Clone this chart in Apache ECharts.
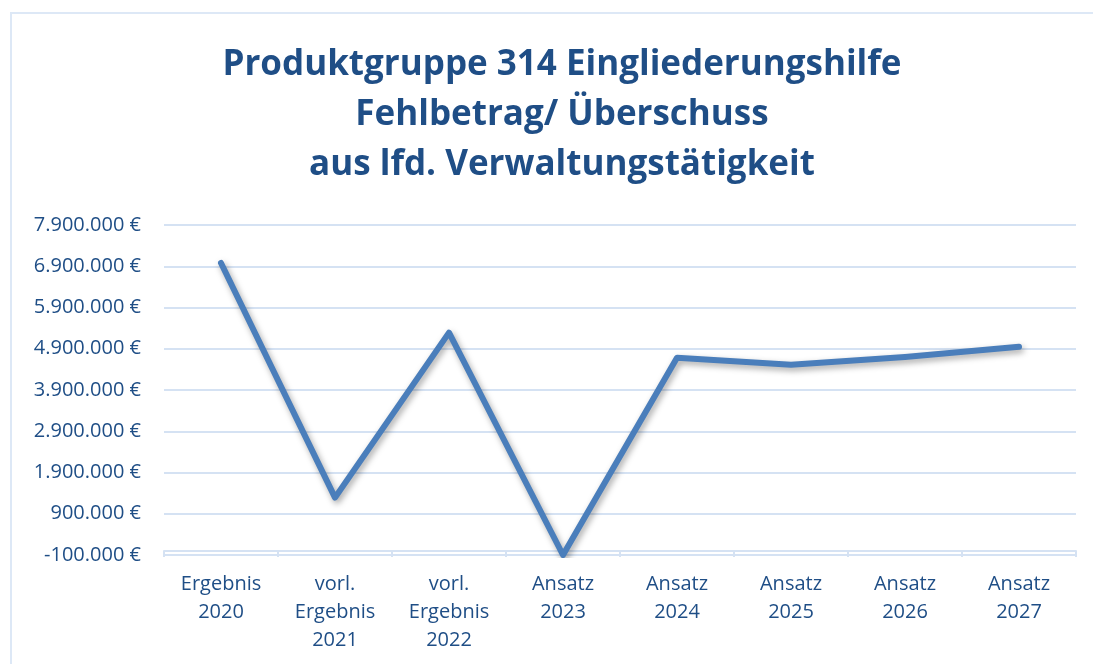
<!DOCTYPE html>
<html>
<head>
<meta charset="utf-8">
<script src="https://cdn.jsdelivr.net/npm/echarts@6/dist/echarts.min.js"></script>
<style>
html, body { margin: 0; padding: 0; background: #fff; }
#frame {
	position: absolute; left: 10px; top: 12px; width: 1100px; height: 670px;
	border: 2px solid #dde8f6; box-sizing: border-box;
}
#chart { position: absolute; left: 0; top: 0; width: 1093px; height: 664px; }
</style>
</head>
<body>
<div id="frame"></div>
<div id="chart"></div>
<script>
// Kategorien (x-Achse)
const categories = [
	'Ergebnis\n2020', 'vorl.\nErgebnis\n2021', 'vorl.\nErgebnis\n2022', 'Ansatz\n2023',
	'Ansatz\n2024', 'Ansatz\n2025', 'Ansatz\n2026', 'Ansatz\n2027'
];
// Fehlbetrag/Überschuss in Euro
const values = [6980000, 1290000, 5290000, -100000, 4680000, 4510000, 4700000, 4950000];
// y-Achse
const yMin = -100000;
const yMax = 7900000;
const yStep = 1000000;

const blue = '#1f4e86';

function euro (v) {
	let s = Math.abs(v).toString().replace(/\B(?=(\d{3})+(?!\d))/g, '.');
	return (v < 0 ? '-' : '') + s + ' €';
}

let myChart = echarts.init(document.getElementById('chart'));
myChart.setOption({
	animation: false,
	title: {
		text: 'Produktgruppe 314 Eingliederungshilfe\nFehlbetrag/ Überschuss\naus lfd. Verwaltungstätigkeit',
		left: 557,
		top: 35,
		textAlign: 'center',
		textStyle: {
			fontFamily: 'Open Sans',
			fontWeight: 'bold',
			fontSize: 35,
			lineHeight: 50,
			color: blue
		}
	},
	grid: { left: 164, right: 17, top: 225, bottom: 109 },
	xAxis: {
		type: 'category',
		data: categories,
		boundaryGap: true,
		axisLine: { lineStyle: { color: '#d5e2f3', width: 2 } },
		axisTick: { show: true, length: 6, lineStyle: { color: '#d5e2f3', width: 2 } },
		axisLabel: {
			interval: 0,
			color: blue,
			fontFamily: 'Open Sans',
			fontSize: 20,
			lineHeight: 28,
			margin: 15
		}
	},
	yAxis: {
		type: 'value',
		min: yMin,
		max: yMax,
		interval: yStep,
		axisLine: { show: false },
		axisTick: { show: false },
		splitLine: { lineStyle: { color: '#d5e2f3', width: 2 } },
		axisLabel: {
			formatter: euro,
			color: blue,
			fontFamily: 'Open Sans',
			fontSize: 20,
			margin: 23
		}
	},
	series: [{
		type: 'line',
		data: values,
		symbol: 'none',
		lineStyle: {
			color: '#4a7ebb',
			width: 6,
			cap: 'round',
			join: 'round',
			shadowColor: 'rgba(0,0,0,0.35)',
			shadowBlur: 6,
			shadowOffsetX: 2,
			shadowOffsetY: 3
		}
	}]
});
</script>
</body>
</html>
